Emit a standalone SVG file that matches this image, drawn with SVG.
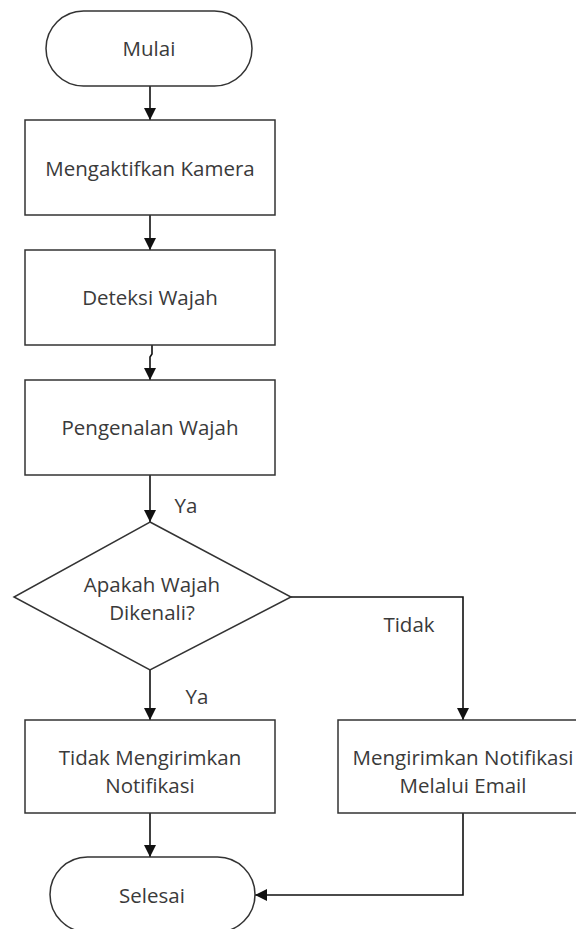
<svg xmlns="http://www.w3.org/2000/svg" width="576" height="929" viewBox="0 0 576 929">
<style>
.s{fill:#fff;stroke:#333;stroke-width:1.5}
.t{font-family:"Open Sans","Noto Sans",sans-serif;font-size:20.5px;fill:#3a3a3a;text-anchor:middle;dominant-baseline:central}
.c{fill:none;stroke:#111;stroke-width:1.6}
</style>
<defs>
<marker id="ah" viewBox="0 0 12 12" refX="12" refY="6" markerWidth="12" markerHeight="12" markerUnits="userSpaceOnUse" orient="auto">
<path d="M0,0 L12,6 L0,12 Z" fill="#111"/>
</marker>
</defs>
<rect width="576" height="929" fill="#fff"/>
<g id="connectors">
<path class="c" d="M150,86 V120" marker-end="url(#ah)"/>
<path class="c" d="M150,215 V250" marker-end="url(#ah)"/>
<path class="c" d="M152,345 V354 L150,357 V380" marker-end="url(#ah)"/>
<path class="c" d="M150,475 V522" marker-end="url(#ah)"/>
<path class="c" d="M150,670 V720" marker-end="url(#ah)"/>
<path class="c" d="M291,597 H463 V720" marker-end="url(#ah)"/>
<path class="c" d="M150,813 V857" marker-end="url(#ah)"/>
<path class="c" d="M463,813 V895 H255" marker-end="url(#ah)"/>
<text class="t" x="186" y="505">Ya</text>
<text class="t" x="197" y="696">Ya</text>
<text class="t" x="409" y="624">Tidak</text>
</g>
<g id="mulai">
<rect class="s" x="46" y="11" width="206" height="75" rx="37.5"/>
<text class="t" x="149" y="48">Mulai</text>
</g>
<g id="kamera">
<rect class="s" x="25" y="120" width="250" height="95"/>
<text class="t" x="150" y="168">Mengaktifkan Kamera</text>
</g>
<g id="deteksi">
<rect class="s" x="25" y="250" width="250" height="95"/>
<text class="t" x="150" y="297">Deteksi Wajah</text>
</g>
<g id="pengenalan">
<rect class="s" x="25" y="380" width="250" height="95"/>
<text class="t" x="150" y="427">Pengenalan Wajah</text>
</g>
<g id="keputusan">
<path class="s" d="M150,522 L291,597 L150,670 L14,597 Z"/>
<text class="t" x="152" y="584">Apakah Wajah</text>
<text class="t" x="152" y="612">Dikenali?</text>
</g>
<g id="tidak-kirim">
<rect class="s" x="25" y="720" width="250" height="93"/>
<text class="t" x="150" y="757">Tidak Mengirimkan</text>
<text class="t" x="150" y="785">Notifikasi</text>
</g>
<g id="kirim-email">
<rect class="s" x="338" y="720" width="250" height="93"/>
<text class="t" x="463" y="757">Mengirimkan Notifikasi</text>
<text class="t" x="463" y="785">Melalui Email</text>
</g>
<g id="selesai">
<rect class="s" x="50" y="857" width="205" height="75" rx="37.5"/>
<text class="t" x="152" y="895">Selesai</text>
</g>
</svg>
